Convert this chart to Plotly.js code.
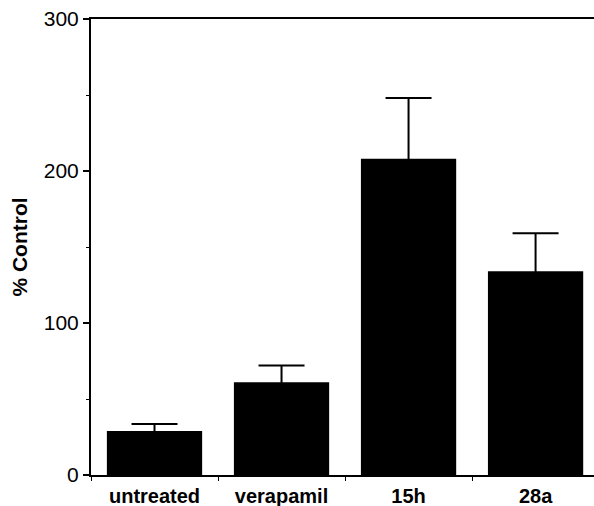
<!DOCTYPE html>
<html>
<head>
<meta charset="utf-8">
<script src="https://cdn.plot.ly/plotly-3.0.1.min.js"></script>
<style>html,body{margin:0;padding:0;background:#fff;}#chart{width:594px;height:506px;}</style>
</head>
<body>
<div id="chart"></div>
<script>
const categories = ["untreated", "verapamil", "15h", "28a"];
const values = [29, 61, 208, 134];
const errorsUp = [4.5, 11, 40, 25];
const yTickVals = [0, 100, 200, 300];
const yTickText = ["0", "100", "200", "300"];

const trace = {
  type: "bar",
  x: categories,
  y: values,
  marker: {color: "#000000", line: {width: 0}},
  error_y: {
    type: "data",
    symmetric: true,
    array: errorsUp,
    color: "#000000",
    thickness: 2,
    width: 23
  },
  hoverinfo: "skip"
};

const layout = {
  width: 594,
  height: 506,
  margin: {l: 91, r: 0, t: 19, b: 31},
  paper_bgcolor: "#ffffff",
  plot_bgcolor: "#ffffff",
  showlegend: false,
  bargap: 0.25,
  font: {family: "Liberation Sans, Arial, sans-serif", color: "#000000"},
  xaxis: {
    type: "category",
    range: [-0.5, 3.46],
    showline: true,
    linecolor: "#000000",
    linewidth: 2,
    mirror: true,
    ticks: "outside",
    tickson: "boundaries",
    ticklen: 4,
    tickwidth: 1,
    tickcolor: "#000000",
    showgrid: false,
    zeroline: false,
    ticklabelstandoff: 2,
    tickfont: {size: 20, weight: "bold", family: "Liberation Sans, Arial, sans-serif"},
    fixedrange: true
  },
  yaxis: {
    range: [0, 300],
    tickvals: yTickVals,
    ticktext: yTickText,
    showline: true,
    linecolor: "#000000",
    linewidth: 2,
    ticks: "outside",
    ticklen: 6,
    tickwidth: 2,
    tickcolor: "#000000",
    showgrid: false,
    zeroline: false,
    tickfont: {size: 21, family: "Liberation Sans, Arial, sans-serif"},
    minor: {dtick: 50, ticks: "outside", ticklen: 3, tickwidth: 1, tickcolor: "#000000", showgrid: false},
    title: {text: "% Control", font: {size: 21, weight: "bold", family: "Liberation Sans, Arial, sans-serif"}, standoff: 10},
    fixedrange: true
  }
};

Plotly.newPlot("chart", [trace], layout, {staticPlot: true, displayModeBar: false});
</script>
</body>
</html>
